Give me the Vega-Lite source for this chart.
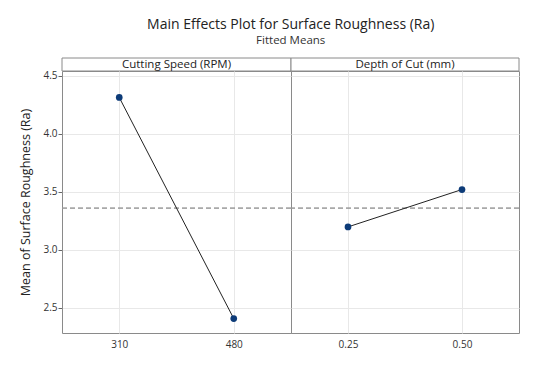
{
  "$schema": "https://vega.github.io/schema/vega-lite/v6.json",
  "background": "white",
  "padding": {"left": 19, "top": 17, "right": 5, "bottom": 5},
  "bounds": "flush",
  "spacing": 0,
  "columns": 2,
  "title": {
    "text": "Main Effects Plot for Surface Roughness (Ra)",
    "subtitle": "Fitted Means",
    "font": "Open Sans",
    "fontSize": 14,
    "fontWeight": 500,
    "color": "#222222",
    "subtitleFont": "Open Sans",
    "subtitleFontSize": 11.5,
    "subtitleColor": "#333333",
    "subtitlePadding": 3,
    "offset": 11.5,
    "anchor": "middle",
    "dx": 21
  },
  "datasets": {
    "speed": [
      {"factor": "Cutting Speed (RPM)", "level": "310", "mean": 4.313},
      {"factor": "Cutting Speed (RPM)", "level": "480", "mean": 2.408}
    ],
    "depth": [
      {"factor": "Depth of Cut (mm)", "level": "0.25", "mean": 3.198},
      {"factor": "Depth of Cut (mm)", "level": "0.50", "mean": 3.520}
    ],
    "headers": [
      {"factor": "Cutting Speed (RPM)"},
      {"factor": "Depth of Cut (mm)"}
    ]
  },
  "resolve": {"scale": {"x": "independent", "y": "independent"}},
  "concat": [
    {
      "width": 229,
      "height": 13,
      "data": {"name": "headers"},
      "transform": [{"filter": "datum.factor == 'Cutting Speed (RPM)'"}],
      "layer": [
        {"mark": {"type": "rect", "fill": "white", "stroke": "#8a8a8a", "strokeWidth": 1}, "encoding": {}},
        {
          "mark": {"type": "text", "font": "Open Sans", "fontSize": 11.5, "color": "#222222", "baseline": "middle", "align": "center"},
          "encoding": {"text": {"field": "factor"}}
        }
      ]
    },
    {
      "width": 228,
      "height": 13,
      "data": {"name": "headers"},
      "transform": [{"filter": "datum.factor == 'Depth of Cut (mm)'"}],
      "layer": [
        {"mark": {"type": "rect", "fill": "white", "stroke": "#8a8a8a", "strokeWidth": 1}, "encoding": {}},
        {
          "mark": {"type": "text", "font": "Open Sans", "fontSize": 11.5, "color": "#222222", "baseline": "middle", "align": "center"},
          "encoding": {"text": {"field": "factor"}}
        }
      ]
    },
    {
      "width": 229,
      "height": 262,
      "data": {"name": "speed"},
      "layer": [
        {
          "mark": {"type": "rule", "color": "#999999", "strokeDash": [5, 3], "strokeWidth": 1},
          "encoding": {"y": {"datum": 3.36, "type": "quantitative", "scale": {"domain": [2.284, 4.541], "zero": false, "nice": false}, "axis": {"title": "Mean of Surface Roughness (Ra)", "values": [2.5, 3.0, 3.5, 4.0, 4.5], "format": ".1f", "grid": true, "domain": false, "tickSize": 4, "labelPadding": 1, "titlePadding": 10}}}
        },
        {
          "mark": {"type": "line", "color": "#222222", "strokeWidth": 1},
          "encoding": {
            "x": {"field": "level", "type": "ordinal", "scale": {"type": "point", "padding": 0.5}, "axis": {"title": null, "labelAngle": 0, "ticks": false, "domain": false, "grid": true, "labelPadding": 6}},
            "y": {"field": "mean", "type": "quantitative"}
          }
        },
        {
          "mark": {"type": "point", "filled": true, "opacity": 1, "color": "#0d3b78", "size": 45},
          "encoding": {
            "x": {"field": "level", "type": "ordinal"},
            "y": {"field": "mean", "type": "quantitative"}
          }
        }
      ]
    },
    {
      "width": 228,
      "height": 262,
      "data": {"name": "depth"},
      "layer": [
        {
          "mark": {"type": "rule", "color": "#999999", "strokeDash": [5, 3], "strokeWidth": 1},
          "encoding": {"y": {"datum": 3.36, "type": "quantitative", "scale": {"domain": [2.284, 4.541], "zero": false, "nice": false}, "axis": {"title": null, "labels": false, "ticks": false, "values": [2.5, 3.0, 3.5, 4.0, 4.5], "grid": true, "domain": false}}}
        },
        {
          "mark": {"type": "line", "color": "#222222", "strokeWidth": 1},
          "encoding": {
            "x": {"field": "level", "type": "ordinal", "scale": {"type": "point", "padding": 0.5}, "axis": {"title": null, "labelAngle": 0, "ticks": false, "domain": false, "grid": true, "labelPadding": 6}},
            "y": {"field": "mean", "type": "quantitative"}
          }
        },
        {
          "mark": {"type": "point", "filled": true, "opacity": 1, "color": "#0d3b78", "size": 45},
          "encoding": {
            "x": {"field": "level", "type": "ordinal"},
            "y": {"field": "mean", "type": "quantitative"}
          }
        }
      ]
    }
  ],
  "config": {
    "view": {"stroke": "#8a8a8a", "strokeWidth": 1},
    "font": "Open Sans",
    "axis": {
      "labelFont": "Open Sans",
      "labelFontSize": 10,
      "labelColor": "#333333",
      "titleFont": "Open Sans",
      "titleFontSize": 12.5,
      "titleFontWeight": "normal",
      "titleColor": "#222222",
      "gridColor": "#e8e8e8",
      "tickColor": "#666666"
    }
  }
}
